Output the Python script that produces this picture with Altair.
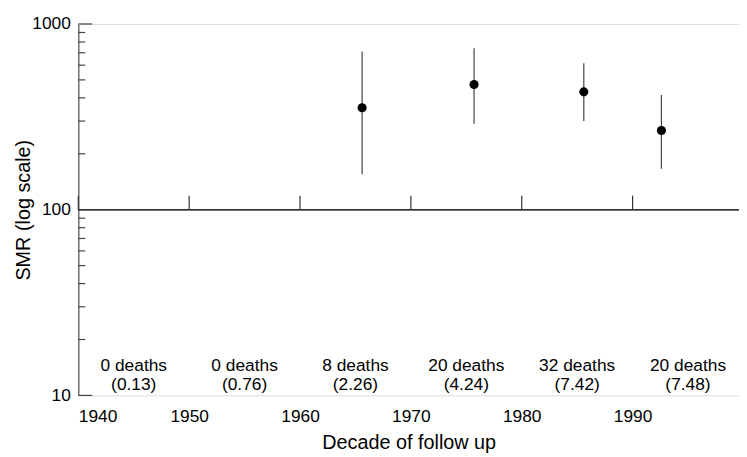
import altair as alt
import pandas as pd

# ---- data ----
decades = [1945, 1955, 1965, 1975, 1985, 1995]
deaths_text = ["0 deaths", "0 deaths", "8 deaths", "20 deaths", "32 deaths", "20 deaths"]
expected_text = ["(0.13)", "(0.76)", "(2.26)", "(4.24)", "(7.42)", "(7.48)"]

point_years = [1965.6, 1975.7, 1985.6, 1992.6]
smr = [354, 472, 431, 267]
smr_low = [155, 290, 300, 166]
smr_high = [712, 740, 614, 415]

x_tick_years = [1940, 1950, 1960, 1970, 1980, 1990]
y_major = [10, 1000]
y_minor = [20, 30, 40, 50, 60, 70, 80, 90, 200, 300, 400, 500, 600, 700, 800, 900]
y_labels = [10, 100, 1000]

W, H = 667, 375
FONT = "Liberation Sans"

pts = pd.DataFrame({"year": point_years, "smr": smr, "lo": smr_low, "hi": smr_high})
ann = pd.DataFrame({"year": decades, "d": deaths_text, "e": expected_text})
xt = pd.DataFrame({"year": x_tick_years})
ymaj = pd.DataFrame({"smr": y_major})
ymin = pd.DataFrame({"smr": y_minor})

xs = alt.Scale(domain=[1940, 1999.6], nice=False, zero=False)
ys = alt.Scale(type="log", domain=[10, 1000], nice=False)

x_axis = alt.Axis(values=x_tick_years, format="d", domain=False, ticks=False, tickSize=0, grid=False,
                  labelPadding=12, labelFontSize=17.5, labelFont=FONT, labelColor="black",
                  title="Decade of follow up", titleFontSize=20, titleFont=FONT,
                  titleFontWeight="normal", titleColor="black", titleY=54,
                  titleBaseline="alphabetic")
y_axis = alt.Axis(values=y_labels, format="d", domain=True, domainColor="#555", domainWidth=1.2,
                  ticks=False, tickSize=0, grid=False, labelPadding=8, labelFontSize=17.5, labelFont=FONT,
                  labelColor="black", title="SMR (log scale)", titleFontSize=20, titleFont=FONT,
                  titleFontWeight="normal", titleColor="black", titleX=-55, titleY=H / 2,
                  titleBaseline="middle", titleAlign="center")

base_pts = alt.Chart(pts)

errbars = base_pts.mark_rule(color="#444", strokeWidth=1.2).encode(
    x=alt.X("year:Q", scale=xs, axis=x_axis),
    y=alt.Y("lo:Q", scale=ys, axis=y_axis),
    y2="hi:Q",
)
points = base_pts.mark_circle(size=85, color="black", opacity=1).encode(
    x=alt.X("year:Q", scale=xs, title="Decade of follow up"),
    y=alt.Y("smr:Q", scale=ys, title="SMR (log scale)"),
)

hline = alt.Chart(pts).mark_rule(color="#333", strokeWidth=1.2).encode(
    y=alt.datum(100), x=alt.value(0), x2=alt.value(W)
)
xticks = alt.Chart(xt).mark_rule(color="#333", strokeWidth=1.2).encode(
    x=alt.X("year:Q", scale=xs, title="Decade of follow up"),
    y=alt.datum(100),
    y2=alt.datum(119),
)
ymajor = alt.Chart(ymaj).mark_rule(color="#444", strokeWidth=1.2).encode(
    y=alt.Y("smr:Q", scale=ys, title="SMR (log scale)"), x=alt.value(0), x2=alt.value(14)
)
yminor = alt.Chart(ymin).mark_rule(color="#444", strokeWidth=1.2).encode(
    y=alt.Y("smr:Q", scale=ys, title="SMR (log scale)"), x=alt.value(0), x2=alt.value(7)
)

t1 = alt.Chart(ann).mark_text(fontSize=17.5, font=FONT, color="black", baseline="middle").encode(
    x=alt.X("year:Q", scale=xs, title="Decade of follow up"), y=alt.value(345), text="d:N"
)
t2 = alt.Chart(ann).mark_text(fontSize=17.5, font=FONT, color="black", baseline="middle").encode(
    x=alt.X("year:Q", scale=xs, title="Decade of follow up"), y=alt.value(365), text="e:N"
)

chart = alt.layer(errbars, hline, xticks, ymajor, yminor, points, t1, t2).properties(
    width=W, height=H,
    autosize=alt.AutoSizeParams(type="none"),
    padding={"left": 71, "top": 14, "right": 0, "bottom": 56},
).configure_view(stroke=None).configure(font=FONT).configure_axis(grid=False)

chart.save("out.html", embed_options={"renderer": "svg", "actions": False})
